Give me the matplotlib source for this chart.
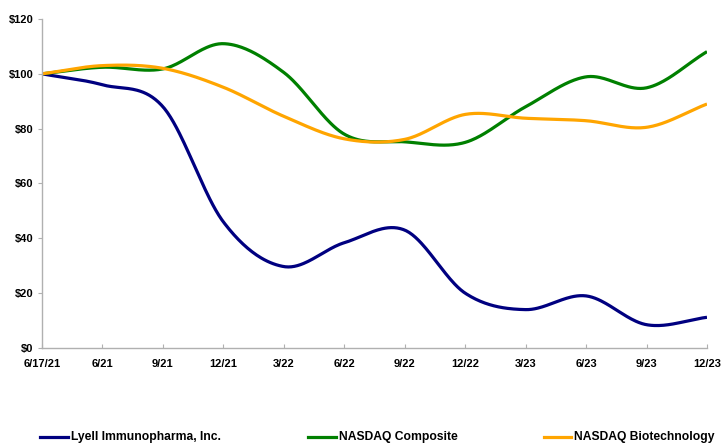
import numpy as np
import matplotlib
matplotlib.use("Agg")
import matplotlib.pyplot as plt
from matplotlib.lines import Line2D

dates = ["6/17/21", "6/21", "9/21", "12/21", "3/22", "6/22", "9/22",
         "12/22", "3/23", "6/23", "9/23", "12/23"]
lyell = [100, 96, 88, 46, 29.7, 38.4, 43, 20, 14, 19, 8.5, 11.2]
nasdaq_comp = [100, 102.4, 101.8, 111, 100.5, 78, 75.2, 75, 88, 98.9, 94.9, 108.1]
nasdaq_bio = [100, 103, 102, 95.1, 84.5, 76.3, 76.1, 85.2, 83.8, 82.9, 80.5, 89]
yticks = [0, 20, 40, 60, 80, 100, 120]
names = ["Lyell Immunopharma, Inc.", "NASDAQ Composite", "NASDAQ Biotechnology"]
colors = ["#000080", "#008000", "#FFA500"]

plt.rcParams['font.family'] = ['Liberation Sans', 'DejaVu Sans']

W, H = 722, 443


def smooth(y, n=40):
    # Catmull-Rom spline through the data points (Excel-like smoothing)
    y = np.asarray(y, dtype=float)
    x = np.arange(len(y), dtype=float)
    P = np.concatenate([[2 * y[0] - y[1]], y, [2 * y[-1] - y[-2]]])
    xs, ys = [], []
    for i in range(len(y) - 1):
        p0, p1, p2, p3 = P[i], P[i + 1], P[i + 2], P[i + 3]
        t = np.linspace(0, 1, n, endpoint=(i == len(y) - 2))
        yy = 0.5 * ((2 * p1) + (-p0 + p2) * t + (2 * p0 - 5 * p1 + 4 * p2 - p3) * t ** 2
                    + (-p0 + 3 * p1 - 3 * p2 + p3) * t ** 3)
        xs.append(x[i] + t)
        ys.append(yy)
    return np.concatenate(xs), np.concatenate(ys)


fig = plt.figure(figsize=(W / 100, H / 100), dpi=100)
ax = fig.add_axes([42 / W, 1 - 348 / H, (707 - 42) / W, (348 - 19) / H])

for vals, c in zip([lyell, nasdaq_comp, nasdaq_bio], colors):
    xs, ys = smooth(vals)
    ax.plot(xs, ys, color=c, lw=2.3, solid_capstyle='butt')

ax.set_xlim(0, len(dates) - 1)
ax.set_ylim(0, 120)
ax.set_xticks(range(len(dates)))
ax.set_xticklabels(dates, fontsize=8, fontweight='bold')
ax.set_yticks(yticks)
ax.set_yticklabels([f"${v}" for v in yticks], fontsize=8, fontweight='bold')
for s in ['top', 'right']:
    ax.spines[s].set_visible(False)
for s in ['left', 'bottom']:
    ax.spines[s].set_color('#b0b0b0')
    ax.spines[s].set_linewidth(1.0)
ax.tick_params(axis='x', direction='in', length=3, color='#b0b0b0', pad=8)
ax.tick_params(axis='y', direction='out', length=3, color='#b0b0b0', pad=3)

# Legend drawn manually at the bottom
leg_y = 1 - 437 / H
leg_pos = [(40, 68, 71), (308, 336, 339), (544, 571, 574)]
for (x0, x1, xt), c, nm in zip(leg_pos, colors, names):
    fig.add_artist(Line2D([x0 / W, x1 / W], [leg_y, leg_y], color=c, lw=2.3,
                          transform=fig.transFigure))
    fig.text(xt / W, leg_y, nm, fontsize=8.7, fontweight='bold',
             ha='left', va='center')

fig.savefig("out.png", dpi=100)
